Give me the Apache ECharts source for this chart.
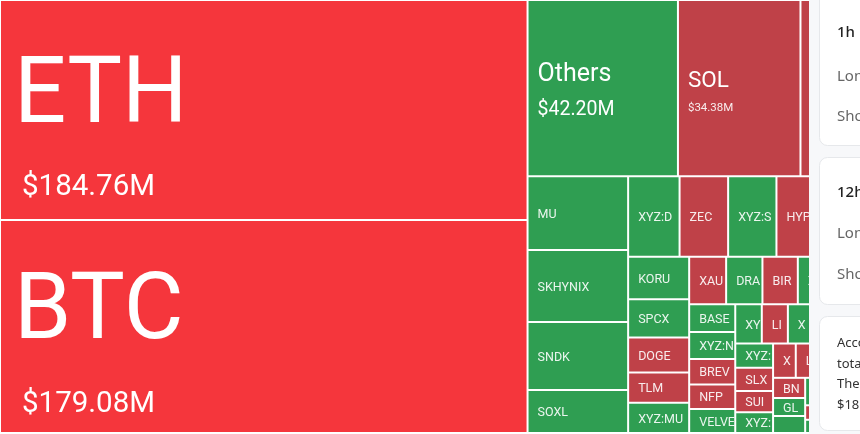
<!DOCTYPE html>
<html><head><meta charset="utf-8">
<script src="https://cdn.jsdelivr.net/npm/echarts@6/dist/echarts.min.js"></script>
<style>html,body{margin:0;padding:0;background:#fff;overflow:hidden}#c{width:860px;height:434px}</style>
</head><body><div id="c"></div>
<script>
// Liquidation amounts (USD millions) per coin
const names = ['ETH','BTC','Others','SOL','XRP','MU','SKHYNIX','SNDK','SOXL','XYZ:DRAM','ZEC','XYZ:SKHX','HYPE','PAXG','KORU','SPCX','DOGE','TLM','XYZ:MU','XAU','DRAM','BIRB','XYZ:SMSN','FARTCOIN','BASED','XYZ:NVDA','BREV','NFP','VELVET','XYZ:TSLA','LIT','XYZ:AMD','PUMP','ENA','XYZ:INTC','SLX','SUI','XYZ:SNDK','XAG','LINK','AVAX','ASTER','BNB','GLW','AAC','WLD','ADA','TAO','LTC','SPX','AAVE','PENGU'];
const values = [184.76,179.08,42.20,34.38,16.70,11.85,11.53,10.89,6.88,6.60,6.23,6.20,6.00,4.72,4.13,3.72,3.40,2.95,2.94,2.80,2.75,2.68,2.50,2.21,2.04,1.98,1.87,1.79,1.77,1.66,1.63,1.55,1.49,1.47,1.46,1.40,1.28,1.25,1.24,1.20,1.17,1.14,1.03,0.92,0.87,0.86,0.80,0.74,0.68,0.62,0.58,0.54];
// S = red side, L = green side
const sides = ['S','S','L','S','S','L','L','L','L','L','S','L','S','L','L','L','S','S','L','S','L','S','L','S','L','L','S','S','L','L','S','L','S','S','L','S','S','L','S','S','S','S','S','L','L','L','S','L','S','L','S','L'];
const cardTitles = ['1h','12h'];
const cardRowLabels = ['Long','Short'];
const noteLines = ['According to statistics, in the past 24 hours,','total liquidations reached','The largest single liquidation order','$18.5M'];

const COLORS = { S: '#bf4148', L: '#2f9e52', hot: '#f5363c' };
const tiers = { ETH: 'xl', BTC: 'xl', Others: 'lg', SOL: 'md' };
const tierTextHeight = { xl: 178, lg: 70, md: 52.4, sm: 13 };
const FONT = 'Roboto, "Noto Sans", sans-serif';

function buildData(padMap) {
  return names.map((n, i) => {
    const item = {
      name: n,
      value: values[i],
      itemStyle: { color: values[i] > 100 ? COLORS.hot : COLORS[sides[i]] }
    };
    if (padMap && padMap[n] != null) {
      item.label = { padding: [padMap[n], tiers[n] ? 0 : -2, 0, 9] };
    }
    return item;
  });
}

function fmt(p) {
  const t = tiers[p.name] || 'sm';
  if (t === 'sm') return '{sm|' + p.name + '}';
  return '{' + t + 'n|' + p.name + '}\n{' + t + 'v|$' + p.value.toFixed(2) + 'M}';
}

const chart = echarts.init(document.getElementById('c'), null, { renderer: 'canvas' });

const graphic = [
  { type: 'rect', z: 100, shape: { x: 809, y: 0, width: 51, height: 434 }, style: { fill: '#f7f8fa' } }
];
const cards = [[-10, 145], [157, 304], [316, 430]];
cards.forEach(c => graphic.push({ type: 'rect', z: 101, shape: { x: 819.5, y: c[0] + 0.5, width: 80, height: c[1] - c[0], r: 8 }, style: { fill: '#fff', stroke: '#e6e8eb', lineWidth: 1 } }));
const titleY = [33, 193];
const rowY = [[77, 117], [234, 275]];
cardTitles.forEach((t, i) => {
  graphic.push({ type: 'text', z: 102, x: 837, y: titleY[i], style: { text: t, fontSize: 15, fontWeight: 500, fill: '#222', verticalAlign: 'middle', fontFamily: '"Noto Sans", sans-serif' } });
  cardRowLabels.forEach((r, j) => graphic.push({ type: 'text', z: 102, x: 837, y: rowY[i][j], style: { text: r, fontSize: 15, fill: '#666', verticalAlign: 'middle', fontFamily: '"Noto Sans", sans-serif' } }));
});
noteLines.forEach((l, i) => graphic.push({ type: 'text', z: 102, x: 837, y: 343 + i * 20.8, style: { text: l, fontSize: 13, fill: '#333', verticalAlign: 'middle', fontFamily: '"Noto Sans", sans-serif' } }));

chart.setOption({
  animation: false,
  graphic: graphic,
  series: [{
    type: 'treemap',
    left: 0, top: 0, width: 860, height: 433,
    roam: false,
    nodeClick: false,
    breadcrumb: { show: false },
    visibleMin: 1,
    label: {
      show: true,
      position: 'insideLeft',
      distance: 0,
      padding: [0, 0, 0, 9],
      overflow: 'truncate',
      ellipsis: '',
      formatter: fmt,
      rich: {
        xln: { fontSize: 92, lineHeight: 155.5, color: '#fff', fontFamily: FONT, padding: [0, 0, 0, 4] },
        xlv: { fontSize: 29.5, lineHeight: 22.5, color: '#fff', fontFamily: FONT, padding: [0, 0, 0, 12] },
        lgn: { fontSize: 25, lineHeight: 44, color: '#fff', fontFamily: FONT },
        lgv: { fontSize: 19.5, lineHeight: 26, color: '#fff', fontFamily: FONT },
        mdn: { fontSize: 22.5, lineHeight: 39.8, color: '#fff', fontFamily: FONT },
        mdv: { fontSize: 11.5, lineHeight: 12.6, color: 'rgba(255,255,255,0.9)', fontFamily: FONT },
        sm: { fontSize: 12.5, lineHeight: 13, color: 'rgba(255,255,255,0.9)', fontFamily: FONT }
      }
    },
    levels: [
      { itemStyle: { borderWidth: 0, gapWidth: 0 } },
      { itemStyle: { borderWidth: 1, borderColor: 'rgba(255,255,255,0.6)', gapWidth: 0 } }
    ],
    data: buildData(null)
  }]
});

// Second pass: centre each label vertically using the layout the treemap computed.
const sData = chart.getModel().getSeriesByIndex(0).getData();
const padMap = {};
for (let i = 0; i < sData.count(); i++) {
  const lay = sData.getItemLayout(i);
  const nm = sData.getName(i);
  if (!lay || names.indexOf(nm) < 0) continue;
  const th = tierTextHeight[tiers[nm] || 'sm'];
  padMap[nm] = Math.max(0, (lay.height - 2 - th) / 2 + (tiers[nm] ? 0 : 1.5));
}
chart.setOption({ series: [{ data: buildData(padMap) }] });
</script></body></html>
